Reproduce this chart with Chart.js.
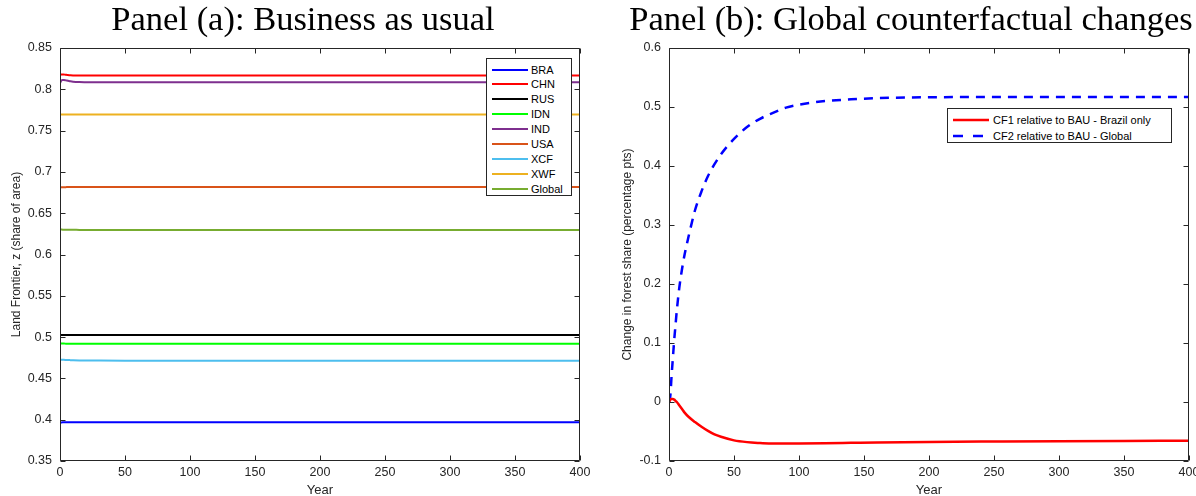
<!DOCTYPE html>
<html>
<head>
<meta charset="utf-8">
<script src="https://cdn.jsdelivr.net/npm/chart.js@4.4.1/dist/chart.umd.min.js"></script>
<style>
  html, body { margin:0; padding:0; background:#fff; }
  body { width:1196px; height:496px; position:relative; overflow:hidden; font-family:"Liberation Sans", Arial, sans-serif; }
  canvas { position:absolute; top:0; }
  .ttl { position:absolute; top:1px; font-family:"Liberation Serif", "Times New Roman", serif; font-size:34.5px; color:#000; white-space:nowrap; transform:translateX(-50%); line-height:34px; }
  .leg { position:absolute; background:#fff; border:1px solid #262626; box-sizing:border-box; }
  .row { position:absolute; left:0; height:14px; font-size:11px; line-height:14px; color:#000; white-space:nowrap; }
  .row svg { position:absolute; top:0; }
  .row span { position:absolute; top:0; }
</style>
</head>
<body>
<canvas id="ca" width="600" height="496" style="left:0"></canvas>
<canvas id="cb" width="596" height="496" style="left:600px"></canvas>
<div class="ttl" style="left:303px">Panel (a): Business as usual</div>
<div class="ttl" style="left:911px">Panel (b): Global counterfactual changes</div>
<div id="legA" class="leg" style="left:486px;top:58px;width:86px;height:138px"></div>
<div id="legB" class="leg" style="left:947px;top:108px;width:225px;height:35px"></div>
<script>
// ---------- DATA ----------
const yearsA = [0, 1, 2, 3, 4, 5, 6, 8, 10, 15, 20, 30, 50, 100, 150, 200, 250, 300, 350, 400];
const seriesNamesA = ['BRA', 'CHN', 'RUS', 'IDN', 'IND', 'USA', 'XCF', 'XWF', 'Global'];
const BRA    = [0.3966,0.3967,0.3968,0.3968,0.3968,0.3968,0.3968,0.3968,0.3968,0.3968,0.3968,0.3968,0.3968,0.3968,0.3968,0.3968,0.3968,0.3968,0.3968,0.3968];
const CHN    = [0.8175,0.8179,0.8180,0.8179,0.8177,0.8175,0.8173,0.8170,0.8168,0.8166,0.8166,0.8166,0.8166,0.8166,0.8166,0.8166,0.8166,0.8166,0.8166,0.8166];
const RUS    = [0.5025,0.5025,0.5025,0.5025,0.5025,0.5025,0.5025,0.5025,0.5025,0.5025,0.5025,0.5025,0.5025,0.5025,0.5025,0.5025,0.5025,0.5025,0.5025,0.5025];
const IDN    = [0.4925,0.4924,0.4923,0.4922,0.4921,0.4920,0.4920,0.4920,0.4920,0.4920,0.4920,0.4920,0.4920,0.4920,0.4920,0.4920,0.4920,0.4920,0.4920,0.4920];
const IND    = [0.8075,0.8105,0.8113,0.8112,0.8110,0.8107,0.8104,0.8097,0.8092,0.8087,0.8086,0.8085,0.8085,0.8085,0.8085,0.8085,0.8085,0.8085,0.8085,0.8085];
const USA    = [0.6812,0.6813,0.6814,0.6815,0.6815,0.6816,0.6816,0.6816,0.6816,0.6816,0.6816,0.6816,0.6816,0.6816,0.6816,0.6816,0.6816,0.6816,0.6816,0.6816];
const XCF    = [0.4727,0.4727,0.4726,0.4725,0.4724,0.4723,0.4722,0.4721,0.4720,0.4718,0.4717,0.4716,0.4715,0.4715,0.4715,0.4715,0.4715,0.4715,0.4715,0.4715];
const XWF    = [0.7695,0.7695,0.7695,0.7695,0.7695,0.7695,0.7695,0.7695,0.7695,0.7695,0.7695,0.7695,0.7695,0.7695,0.7695,0.7695,0.7695,0.7695,0.7695,0.7695];
const Global = [0.6302,0.6302,0.6301,0.6301,0.6300,0.6300,0.6300,0.6299,0.6299,0.6298,0.6298,0.6298,0.6298,0.6298,0.6298,0.6298,0.6298,0.6298,0.6298,0.6298];

const yearsB = [0, 1, 2, 3, 4, 5, 6, 8, 10, 12, 15, 20, 25, 30, 35, 40, 50, 60, 70, 80, 90, 100, 120, 140, 160, 200, 250, 300, 350, 400];
const seriesNamesB = ['CF1 relative to BAU - Brazil only', 'CF2 relative to BAU - Global'];
const CF1 = [0, 0.004, 0.005, 0.005, 0.004, 0.002, 0.0, -0.006, -0.012, -0.018, -0.025, -0.034, -0.042, -0.049, -0.055, -0.059, -0.065, -0.068, -0.0695, -0.0705, -0.0705, -0.0703, -0.0698, -0.0692, -0.0686, -0.0677, -0.067, -0.0664, -0.066, -0.0657];
const CF2 = [0, 0.01, 0.045, 0.075, 0.105, 0.13, 0.155, 0.195, 0.225, 0.25, 0.28, 0.325, 0.357, 0.383, 0.403, 0.42, 0.446, 0.466, 0.48, 0.49, 0.499, 0.504, 0.51, 0.513, 0.515, 0.5165, 0.517, 0.517, 0.517, 0.517];

const xTicks = [0, 50, 100, 150, 200, 250, 300, 350, 400];
const xTickLabels = ['0', '50', '100', '150', '200', '250', '300', '350', '400'];
const yTicksA = [0.35, 0.4, 0.45, 0.5, 0.55, 0.6, 0.65, 0.7, 0.75, 0.8, 0.85];
const yTickLabelsA = ['0.35', '0.4', '0.45', '0.5', '0.55', '0.6', '0.65', '0.7', '0.75', '0.8', '0.85'];
const yTicksB = [-0.1, 0, 0.1, 0.2, 0.3, 0.4, 0.5, 0.6];
const yTickLabelsB = ['-0.1', '0', '0.1', '0.2', '0.3', '0.4', '0.5', '0.6'];

// ---------- STYLE ----------
const colorsA = ['#0000ff', '#ff0000', '#000000', '#00ff00', '#7e2f8e', '#d95319', '#4dbeee', '#edb120', '#77ac30'];
const colorsB = ['#ff0000', '#0000ff'];
const AX = '#262626';

const boxTicks = {
  id: 'boxTicks',
  afterDraw(chart) {
    const ctx = chart.ctx;
    const {left, right, top, bottom} = chart.chartArea;
    const x = chart.scales.x, y = chart.scales.y;
    ctx.save();
    ctx.strokeStyle = AX;
    ctx.lineWidth = 1;
    ctx.beginPath();
    const L = Math.round(left) + 0.5, R = Math.round(right) - 0.5, T = Math.round(top) + 0.5, B = Math.round(bottom) - 0.5;
    ctx.rect(L, T, R - L, B - T);
    x.ticks.forEach(t => {
      const px = Math.round(x.getPixelForValue(t.value)) + 0.5;
      ctx.moveTo(px, B); ctx.lineTo(px, B - 5);
      ctx.moveTo(px, T); ctx.lineTo(px, T + 5);
    });
    y.ticks.forEach(t => {
      const py = Math.round(y.getPixelForValue(t.value)) + 0.5;
      ctx.moveTo(L, py); ctx.lineTo(L + 5, py);
      ctx.moveTo(R, py); ctx.lineTo(R - 5, py);
    });
    ctx.stroke();
    ctx.restore();
  }
};

function makeOptions(yTickVals, yLabels, yMin, yMax, yTitle, yWidth, padRight, yTitlePad) {
  return {
    responsive: false,
    animation: false,
    devicePixelRatio: 1,
    layout: { padding: { left: 0, right: padRight, top: 48, bottom: 0 } },
    plugins: { legend: { display: false }, tooltip: { enabled: false } },
    elements: { point: { radius: 0 }, line: { cubicInterpolationMode: 'monotone' } },
    scales: {
      x: {
        type: 'linear', min: 0, max: 400,
        grid: { display: false, drawTicks: false, tickLength: 0 }, border: { display: false },
        afterBuildTicks: s => { s.ticks = xTicks.map(v => ({ value: v })); },
        afterFit: s => { s.height = 35; s.paddingLeft = 0; s.paddingRight = 0; },
        ticks: { autoSkip: false, maxRotation: 0, padding: 4, color: AX,
          font: { family: 'Liberation Sans', size: 12.5 },
          callback: (v) => xTickLabels[xTicks.indexOf(v)] },
        title: { display: true, text: 'Year', color: AX, padding: { top: 0, bottom: -2 },
          font: { family: 'Liberation Sans', size: 13 } }
      },
      y: {
        type: 'linear', min: yMin, max: yMax,
        grid: { display: false, drawTicks: false, tickLength: 0 }, border: { display: false },
        afterBuildTicks: s => { s.ticks = yTickVals.map(v => ({ value: v })); },
        afterFit: s => { s.width = yWidth; s.paddingTop = 0; s.paddingBottom = 0; },
        ticks: { autoSkip: false, padding: 8, color: AX,
          font: { family: 'Liberation Sans', size: 12.5 },
          callback: (v) => { const i = yTickVals.findIndex(t => Math.abs(t - v) < 1e-9); return i >= 0 ? yLabels[i] : ''; } },
        title: { display: true, text: yTitle, color: AX, padding: { top: yTitlePad, bottom: 0 },
          font: { family: 'Liberation Sans', size: 12 } }
      }
    }
  };
}

new Chart(document.getElementById('ca'), {
  type: 'line',
  data: {
    datasets: [BRA, CHN, RUS, IDN, IND, USA, XCF, XWF, Global].map((arr, i) => ({
      label: seriesNamesA[i],
      data: arr.map((v, j) => ({ x: yearsA[j], y: v })),
      borderColor: colorsA[i], borderWidth: 2, fill: false
    }))
  },
  options: makeOptions(yTicksA, yTickLabelsA, 0.35, 0.85, 'Land Frontier, z (share of area)', 60, 20, 9),
  plugins: [boxTicks]
});

new Chart(document.getElementById('cb'), {
  type: 'line',
  data: {
    datasets: [
      { label: seriesNamesB[0], data: CF1.map((v, j) => ({ x: yearsB[j], y: v })), borderColor: colorsB[0], borderWidth: 2.5, fill: false },
      { label: seriesNamesB[1], data: CF2.map((v, j) => ({ x: yearsB[j], y: v })), borderColor: colorsB[1], borderWidth: 2.5, borderDash: [9, 7], fill: false }
    ]
  },
  options: makeOptions(yTicksB, yTickLabelsB, -0.1, 0.6, 'Change in forest share (percentage pts)', 69, 7, 20),
  plugins: [boxTicks]
});

// ---------- LEGENDS ----------
function buildLegend(el, names, colors, dashes, rowTop, rowStep, sampleX, sampleW, textX, lw) {
  names.forEach((n, i) => {
    const row = document.createElement('div');
    row.className = 'row';
    row.style.top = (rowTop + i * rowStep - 7) + 'px';
    row.style.width = '100%';
    const d = dashes[i] ? ` stroke-dasharray="${dashes[i]}"` : '';
    row.innerHTML = `<svg width="${sampleW}" height="14" style="left:${sampleX}px"><line x1="0" y1="7" x2="${sampleW}" y2="7" stroke="${colors[i]}" stroke-width="${lw}"${d}/></svg><span style="left:${textX}px">${n}</span>`;
    el.appendChild(row);
  });
}
buildLegend(document.getElementById('legA'), seriesNamesA, colorsA, [], 10.5, 14.9, 5, 36, 44, 2);
buildLegend(document.getElementById('legB'), seriesNamesB, colorsB, [null, '10,10'], 10.5, 16, 5, 36, 45, 2.5);
</script>
</body>
</html>
